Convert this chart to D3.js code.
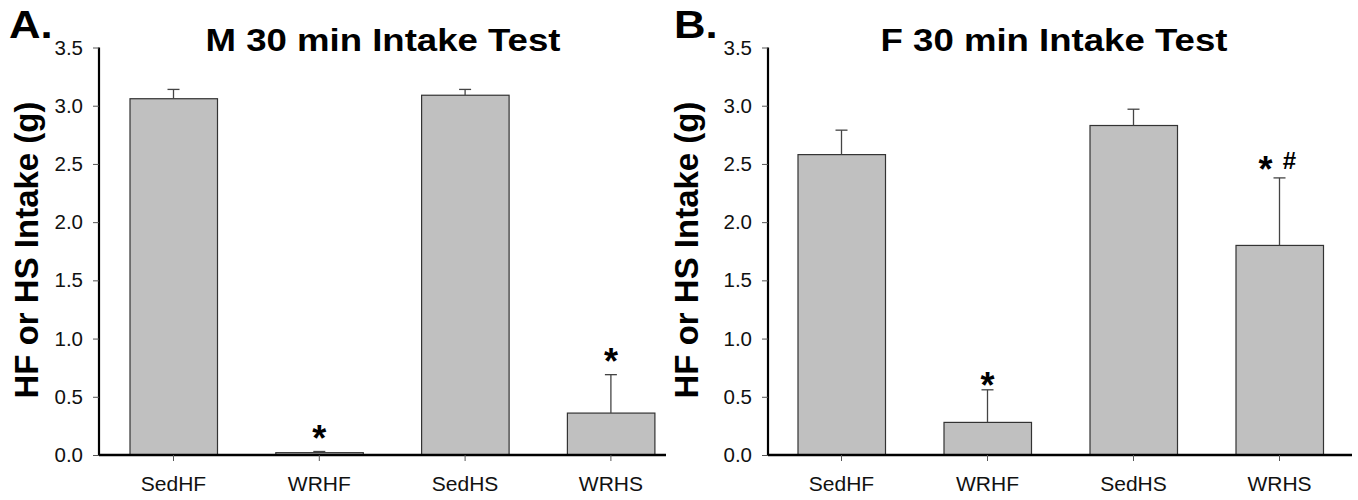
<!DOCTYPE html>
<html lang="en">
<head>
    <meta charset="UTF-8">
    <title>30 min Intake Test</title>
    <style>
        body { margin: 0; background: #fff; }
        text { font-family: Arial, "Liberation Sans", sans-serif; }
    </style>
</head>
<body>
<div id="chart"></div>
<script src="https://cdn.jsdelivr.net/npm/d3@7/dist/d3.min.js"></script>
<script>
    const groups = ["SedHF", "WRHF", "SedHS", "WRHS"];
    const yTicks = [0, 0.5, 1.0, 1.5, 2.0, 2.5, 3.0, 3.5];

    const maleMean = [3.06, 0.02, 3.09, 0.36];
    const maleErr = [0.08, 0.01, 0.05, 0.33];
    const maleMarks = ["", "*", "", "*"];

    const femaleMean = [2.58, 0.28, 2.83, 1.80];
    const femaleErr = [0.21, 0.28, 0.14, 0.58];
    const femaleMarks = ["", "*", "", "*#"];

    const width = 1358, height = 500;
    const FONT = "Arial, 'Liberation Sans', sans-serif";

    let svg = d3.select("#chart")
        .append("svg")
        .attr("width", width)
        .attr("height", height);

    const panels = [
        {letter: "A.", title: "M 30 min Intake Test", mean: maleMean, err: maleErr, marks: maleMarks,
            x0: 99, x1: 666, first: 173.5, step: 145.8, titleX: 383, labelX: 38, letterX: 9, markOff: 22},
        {letter: "B.", title: "F 30 min Intake Test", mean: femaleMean, err: femaleErr, marks: femaleMarks,
            x0: 768, x1: 1352, first: 841.5, step: 146, titleX: 1054, labelX: 698, letterX: 674, markOff: 13}
    ];

    const y = d3.scaleLinear()
        .domain([0, 3.5])
        .range([455, 47.5]);

    panels.forEach(p => {
        let g = svg.append("g");

        // band scale so the category centres land where the picture has them
        const bw = p.step;
        const x = d3.scaleBand()
            .domain(groups)
            .range([p.first - bw / 2, p.first - bw / 2 + bw * groups.length])
            .paddingInner(0.4)
            .paddingOuter(0.2);
        const cx = d => x(d) + x.bandwidth() / 2;

        // bars
        g.selectAll("rect.bar")
            .data(groups)
            .join("rect")
            .attr("class", "bar")
            .attr("x", d => cx(d) - 43.5)
            .attr("width", 87.5)
            .attr("y", (d, i) => y(p.mean[i]))
            .attr("height", (d, i) => y(0) - y(p.mean[i]))
            .attr("fill", "#c0c0c0")
            .attr("stroke", "#333")
            .attr("stroke-width", 1.2);

        // error bars (upper only)
        g.selectAll("line.err")
            .data(groups)
            .join("line")
            .attr("class", "err")
            .attr("x1", cx).attr("x2", cx)
            .attr("y1", (d, i) => y(p.mean[i]))
            .attr("y2", (d, i) => y(p.mean[i] + p.err[i]))
            .attr("stroke", "#444")
            .attr("stroke-width", 1.3);
        g.selectAll("line.cap")
            .data(groups)
            .join("line")
            .attr("class", "cap")
            .attr("x1", d => cx(d) - 6).attr("x2", d => cx(d) + 6)
            .attr("y1", (d, i) => y(p.mean[i] + p.err[i]))
            .attr("y2", (d, i) => y(p.mean[i] + p.err[i]))
            .attr("stroke", "#444")
            .attr("stroke-width", 1.3);

        // significance marks
        groups.forEach((d, i) => {
            const m = p.marks[i];
            if (!m) return;
            const top = y(p.mean[i] + p.err[i]) - p.markOff;
            if (m === "*#") {
                g.append("text").attr("x", cx(d) - 14).attr("y", top + 17)
                    .attr("text-anchor", "middle").attr("font-size", 36).attr("font-weight", "bold").text("*");
                g.append("text").attr("x", cx(d) + 10).attr("y", top + 4)
                    .attr("text-anchor", "middle").attr("font-size", 24).attr("font-weight", "bold").text("#");
            } else {
                g.append("text").attr("x", cx(d)).attr("y", top + 21)
                    .attr("text-anchor", "middle").attr("font-size", 36).attr("font-weight", "bold").text(m);
            }
        });

        // y axis
        let yAxis = g.append("g")
            .attr("transform", `translate(${p.x0},0)`)
            .call(d3.axisLeft(y).tickValues(yTicks).tickFormat(d3.format(".1f")).tickSize(6).tickPadding(10));
        yAxis.select(".domain").attr("stroke", "#000").attr("stroke-width", 2.2)
            .attr("d", `M0,${y(3.5)}V${y(0)}`);
        yAxis.selectAll(".tick line").attr("stroke", "#555").attr("stroke-width", 1);
        yAxis.selectAll(".tick text").attr("font-size", 20.5).attr("fill", "#111")
            .attr("font-family", FONT);

        // x axis
        let xAxis = g.append("g")
            .attr("transform", `translate(0,${y(0)})`)
            .call(d3.axisBottom(x).tickSize(6).tickPadding(15));
        xAxis.select(".domain").attr("stroke", "#000").attr("stroke-width", 2.6)
            .attr("d", `M${p.x0},0H${p.x1}`);
        xAxis.selectAll(".tick line").attr("stroke", "#555").attr("stroke-width", 1);
        xAxis.selectAll(".tick text").attr("font-size", 21).attr("fill", "#111")
            .attr("font-family", FONT);

        // title and labels
        g.append("text")
            .attr("transform", `translate(${p.titleX},51) scale(1.18,1)`)
            .attr("text-anchor", "middle").attr("font-size", 31).attr("font-weight", "bold")
            .text(p.title);
        g.append("text")
            .attr("transform", `translate(${p.letterX},38) scale(1.12,1)`)
            .attr("font-size", 39).attr("font-weight", "bold")
            .text(p.letter);
        g.append("text")
            .attr("transform", `translate(${p.labelX},250) rotate(-90)`)
            .attr("text-anchor", "middle").attr("font-size", 33).attr("font-weight", "bold")
            .text("HF or HS Intake (g)");
    });
</script>
</body>
</html>
